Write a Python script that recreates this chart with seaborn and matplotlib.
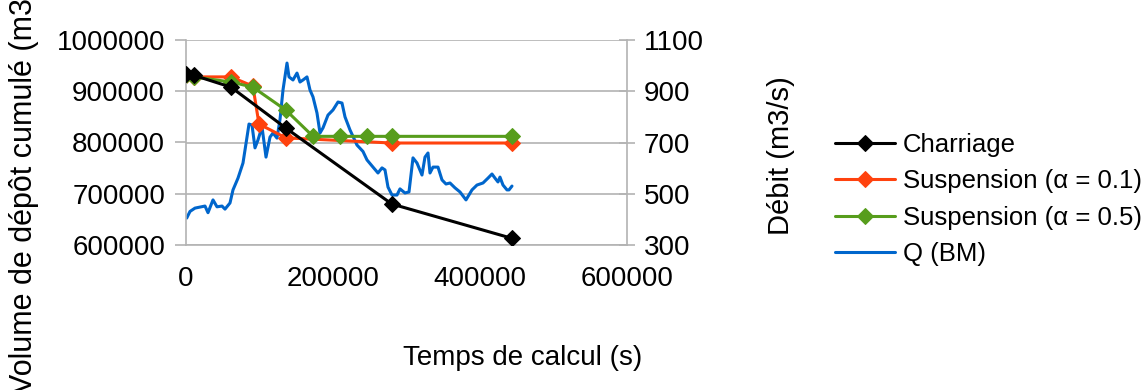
import numpy as np
import pandas as pd
import seaborn as sns
import matplotlib.pyplot as plt
from matplotlib.ticker import FuncFormatter

# Sediment deposits (left axis, m3) vs. computation time (s)
charriage_t = [0, 10900, 61200, 136000, 280000, 443500]
charriage_v = [933000, 931000, 908000, 828000, 680000, 613000]

susp01_t = [0, 10900, 61200, 91000, 99300, 136000, 280000, 443500]
susp01_v = [931000, 928000, 928000, 910000, 836000, 809000, 799000, 799000]

susp05_t = [0, 10900, 61200, 91000, 136000, 172800, 209500, 246000, 280000, 443500]
susp05_v = [931000, 928000, 918000, 908000, 863000, 812000, 812000, 812000, 812000, 812000]

# Discharge Q (BM), right axis, m3/s
q_t = [950, 5440, 12240, 19050, 25850, 29930, 36730, 42180, 48980, 53060,
       59860, 63940, 70750, 77550, 82990, 85710, 89790, 93870, 97960, 103400,
       108840, 114280, 118360, 123800, 127890, 131970, 137410, 140130, 145570, 151010,
       155100, 159180, 164620, 168700, 172780, 178220, 182310, 186390, 193190, 199990,
       206800, 212240, 216320, 223120, 232640, 240810, 246250, 254410, 261210, 266660,
       270740, 274820, 280260, 287060, 291150, 297950, 303390, 308830, 314270, 321070,
       325160, 329240, 331960, 336040, 342840, 348290, 353730, 359170, 365970, 372770,
       380940, 389100, 395900, 404060, 410870, 416310, 420390, 424470, 427190, 431270,
       436710, 439430, 443520]
q_v = [405, 431, 444, 448, 452, 426, 476, 449, 452, 440,
       464, 515, 561, 620, 721, 772, 768, 679, 710, 761,
       643, 721, 737, 717, 790, 905, 1010, 956, 944, 971,
       936, 944, 956, 905, 878, 815, 737, 757, 807, 827,
       858, 854, 800, 749, 690, 665, 632, 604, 581, 601,
       593, 526, 495, 495, 519, 503, 507, 640, 620, 573,
       643, 659, 581, 604, 604, 554, 538, 542, 523, 507,
       476, 515, 534, 542, 561, 577, 561, 546, 565, 534,
       515, 515, 530]

x_ticks = [0, 200000, 400000, 600000]
left_ticks = [600000, 700000, 800000, 900000, 1000000]
right_ticks = [300, 500, 700, 900, 1100]

sns.set_style("white")
plt.rcParams['font.family'] = ['Liberation Sans', 'DejaVu Sans']
plt.rcParams['text.color'] = 'black'
plt.rcParams['axes.labelcolor'] = 'black'
plt.rcParams['xtick.color'] = 'black'
plt.rcParams['ytick.color'] = 'black'
fs = 20
grey = '#b3b3b3'

fig = plt.figure(figsize=(11.44, 3.9), dpi=100)
# ax holds the discharge (drawn behind), ax2 the deposits
ax = fig.add_axes([186 / 1144, 1 - 245 / 390, 441 / 1144, 205 / 390])
ax2 = ax.twinx()

sns.lineplot(x=q_t, y=q_v, ax=ax, color='#0066cc', linewidth=2.2, label='Q (BM)', legend=False)

sns.lineplot(x=charriage_t, y=charriage_v, ax=ax2, color='black', marker='D', markersize=8.5,
             markeredgecolor='black', linewidth=2.2, label='Charriage', legend=False)
sns.lineplot(x=susp01_t, y=susp01_v, ax=ax2, color='#ff420e', marker='D', markersize=8.5,
             markeredgecolor='#ff420e', linewidth=2.2, label='Suspension (α = 0.1)', legend=False)
sns.lineplot(x=susp05_t, y=susp05_v, ax=ax2, color='#579d1c', marker='D', markersize=8.5,
             markeredgecolor='#579d1c', linewidth=2.2, label='Suspension (α = 0.5)', legend=False)

ax2.lines[0].set_zorder(5)

plain = FuncFormatter(lambda v, p: '%d' % v)
ax.set_xlim(0, 600000)
ax.set_xticks(x_ticks)
ax.xaxis.set_major_formatter(plain)
ax.set_ylim(300, 1100)
ax.set_yticks(right_ticks)
ax2.set_ylim(600000, 1000000)
ax2.set_yticks(left_ticks)
ax2.yaxis.set_major_formatter(plain)

ax.yaxis.tick_right()
ax.yaxis.set_label_position('right')
ax2.yaxis.tick_left()
ax2.yaxis.set_label_position('left')

ax.grid(axis='y', color=grey, linewidth=1.2)
ax.set_axisbelow(True)

for a in (ax, ax2):
    for s in a.spines.values():
        s.set_visible(False)
    a.tick_params(labelsize=fs, length=8, width=1.2, color=grey, pad=7)
ax.tick_params(axis='y', direction='inout', length=12, pad=6)
for a, side in ((ax, 'bottom'), (ax, 'right'), (ax2, 'left')):
    a.spines[side].set_visible(True)
    a.spines[side].set_color(grey)
    a.spines[side].set_linewidth(1.2)

ax.set_xlabel('Temps de calcul (s)', fontsize=fs)
ax.xaxis.set_label_coords(0.764, -0.49)
ax.set_ylabel('Débit (m3/s)', fontsize=21)
ax.yaxis.set_label_coords(1.318, 0.435)
ax2.set_ylabel('Volume de dépôt cumulé (m3)', fontsize=22)
ax2.yaxis.set_label_coords(-0.334, 0.265)

handles = ax2.get_lines()[:3] + [ax.get_lines()[0]]
labels = [h.get_label() for h in handles]
fig.legend(handles, labels, loc='upper left', bbox_to_anchor=(835 / 1144, 1 - 133 / 390),
           frameon=False, fontsize=18.5, borderpad=0, borderaxespad=0,
           handlelength=2.33, handletextpad=0.3, labelspacing=0.48)

fig.savefig('out.png', dpi=100)
